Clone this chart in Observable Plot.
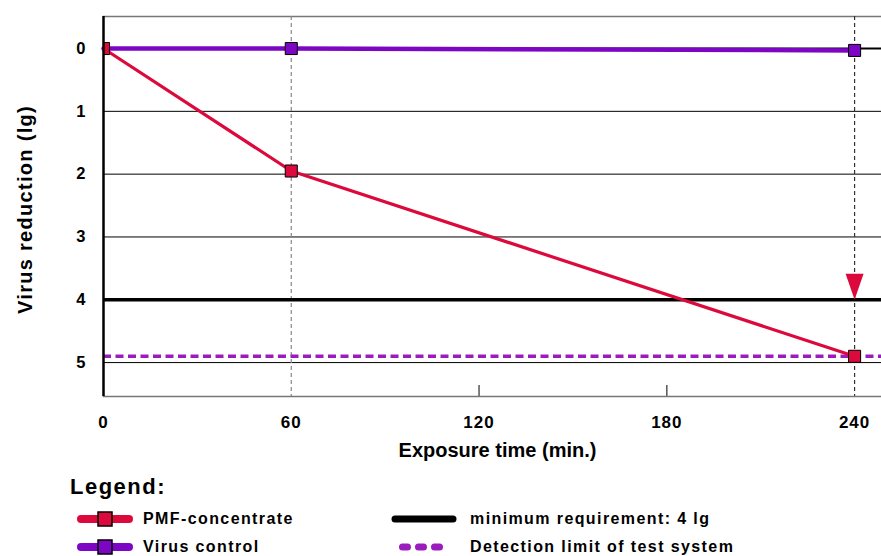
<!DOCTYPE html>
<html>
<head>
<meta charset="utf-8">
<script src="https://cdn.jsdelivr.net/npm/d3@7"></script>
<script src="https://cdn.jsdelivr.net/npm/@observablehq/plot@0.6"></script>
<style>
  html, body { margin: 0; padding: 0; background: #fff; }
  body { width: 881px; height: 556px; overflow: hidden; font-family: "Liberation Sans", Arial, sans-serif; }
  #legend { position: relative; height: 86px; }
  #legend .title { position: absolute; left: 70px; top: 4px; font-size: 22px; font-weight: bold; letter-spacing: 1.5px; }
  #legend .item { position: absolute; display: flex; align-items: center; font-size: 16px; font-weight: bold; letter-spacing: 1.4px; height: 20px; }
  #legend svg { display: block; }
  #chart g[aria-label="x-axis tick label"] text, #chart g[aria-label="y-axis tick label"] text { letter-spacing: 1px; }
</style>
</head>
<body>
<div id="chart"></div>
<div id="legend"></div>
<script>
// ---- data ----
const times = [0, 60, 240];
const pmfReduction = [0, 1.95, 4.9];
const controlReduction = [0, 0, 0.03];
const minRequirement = 4;
const detectionLimit = 4.9;
const xTicks = [0, 60, 120, 180, 240];
const yTicks = [0, 1, 2, 3, 4, 5];
const gridValues = [0, 1, 2, 3, 5];
const sampleTimes = [60, 240];
const minorTicks = [120, 180];
const seriesNames = ["PMF-concentrate", "Virus control", "minimum requirement: 4 lg", "Detection limit of test system"];
const xLabel = "Exposure time (min.)";
const yLabel = "Virus reduction (lg)";

const RED = "#dc0a3c";
const PURPLE = "#7d06c4";
const DPURPLE = "#9a1cbc";

const pmf = times.map((t, i) => ({t, v: pmfReduction[i]}));
const ctrl = times.map((t, i) => ({t, v: controlReduction[i]}));

const triangle = {
  draw(context, l) {
    const w = 9;
    context.moveTo(0, -l);
    context.lineTo(-w, 0);
    context.lineTo(w, 0);
    context.closePath();
  }
};

const chart = Plot.plot({
  width: 881,
  height: 470,
  marginTop: 16,
  marginBottom: 74,
  marginLeft: 103,
  marginRight: 0,
  style: {fontFamily: "Liberation Sans, Arial, sans-serif", fontSize: "16px", fontWeight: "bold", color: "#000", background: "#fff"},
  x: {domain: [0, 248.6]},
  y: {domain: [-0.51, 5.54], reverse: true},
  marks: [
    Plot.gridY(gridValues, {stroke: "#000", strokeOpacity: 1, strokeWidth: d => d === 0 ? 2 : 1}),
    Plot.frame({anchor: "top", stroke: "#777", strokeWidth: 1.5}),
    Plot.ruleX([sampleTimes[0]], {stroke: "#888", strokeDasharray: "4,3", strokeWidth: 1.2}),
    Plot.ruleX([sampleTimes[1]], {stroke: "#333", strokeDasharray: "4,3", strokeWidth: 1.2}),
    Plot.ruleX(minorTicks, {stroke: "#555", strokeWidth: 1.5, insetTop: 369}),
    Plot.ruleY([minRequirement], {stroke: "#000", strokeWidth: 3.5}),
    Plot.ruleY([detectionLimit], {stroke: DPURPLE, strokeWidth: 3.5, strokeDasharray: "8,4.5"}),
    Plot.line(ctrl, {x: "t", y: "v", stroke: PURPLE, strokeWidth: 4.5}),
    Plot.line(pmf, {x: "t", y: "v", stroke: RED, strokeWidth: 3.2}),
    Plot.dot(ctrl.slice(1), {x: "t", y: "v", symbol: "square", r: 6.8, fill: PURPLE, stroke: "#000", strokeWidth: 1}),
    Plot.dot(pmf, {x: "t", y: "v", symbol: "square", r: 6.8, fill: RED, stroke: "#000", strokeWidth: 1, clip: true}),
    Plot.vector([{t: sampleTimes[1], v: minRequirement}], {x: "t", y: "v", length: 26, rotate: 180, anchor: "end", shape: triangle, fill: RED, stroke: "none"}),
    Plot.frame({anchor: "bottom", stroke: "#777", strokeWidth: 1.5}),
    Plot.ruleX([0], {stroke: "#000", strokeWidth: 2.5}),
    Plot.axisY(yTicks, {tickSize: 0, tickPadding: 17, label: null, fontSize: 16.5, fontWeight: "bold", tickFormat: d3.format("d")}),
    Plot.axisX(xTicks, {tickSize: 0, tickPadding: 19, label: null, fontSize: 17, fontWeight: "bold", tickFormat: d3.format("d")}),
    Plot.text([xLabel], {text: d => d, frameAnchor: "bottom", dx: 5, dy: 60, fontSize: 20, fontWeight: "bold", fill: "#000"}),
    Plot.text([yLabel], {text: d => d, frameAnchor: "left", textAnchor: "middle", rotate: -90, dx: -78, dy: 3, fontSize: 20, fontWeight: "bold", fill: "#000"})
  ]
});
document.getElementById("chart").appendChild(chart);
for (const t of chart.querySelectorAll("text")) {
  if (t.textContent === yLabel) t.style.letterSpacing = "1.3px";
}

// ---- legend ----
const legend = document.getElementById("legend");
legend.innerHTML = `<div class="title">Legend:</div>`;
function lineSwatch(color, width, dash, square, w, inset) {
  const s = square ? `<rect x="${w/2-7}" y="3" width="14" height="14" fill="${color}" stroke="#000" stroke-width="1.5"/>` : "";
  return `<svg width="${w}" height="20"><line x1="${inset}" x2="${w-inset}" y1="10" y2="10" stroke="${color}" stroke-width="${width}" stroke-linecap="round" ${dash ? `stroke-dasharray="${dash}"` : ""}/>${s}</svg>`;
}
const items = [
  {left: 77, top: 39, sw: lineSwatch(RED, 8, null, true, 56, 4), gap: 10, name: seriesNames[0]},
  {left: 77, top: 67, sw: lineSwatch(PURPLE, 8, null, true, 56, 4), gap: 10, name: seriesNames[1]},
  {left: 391, top: 39, sw: lineSwatch("#000", 7, null, false, 66, 4), gap: 13, name: seriesNames[2]},
  {left: 396, top: 67, sw: lineSwatch(DPURPLE, 7, "5,11", false, 50, 6.5), gap: 24, name: seriesNames[3]}
];
for (const it of items) {
  const d = document.createElement("div");
  d.className = "item";
  d.style.left = it.left + "px";
  d.style.top = it.top + "px";
  d.innerHTML = it.sw + `<span style="margin-left:${it.gap}px">${it.name}</span>`;
  legend.appendChild(d);
}
</script>
</body>
</html>
